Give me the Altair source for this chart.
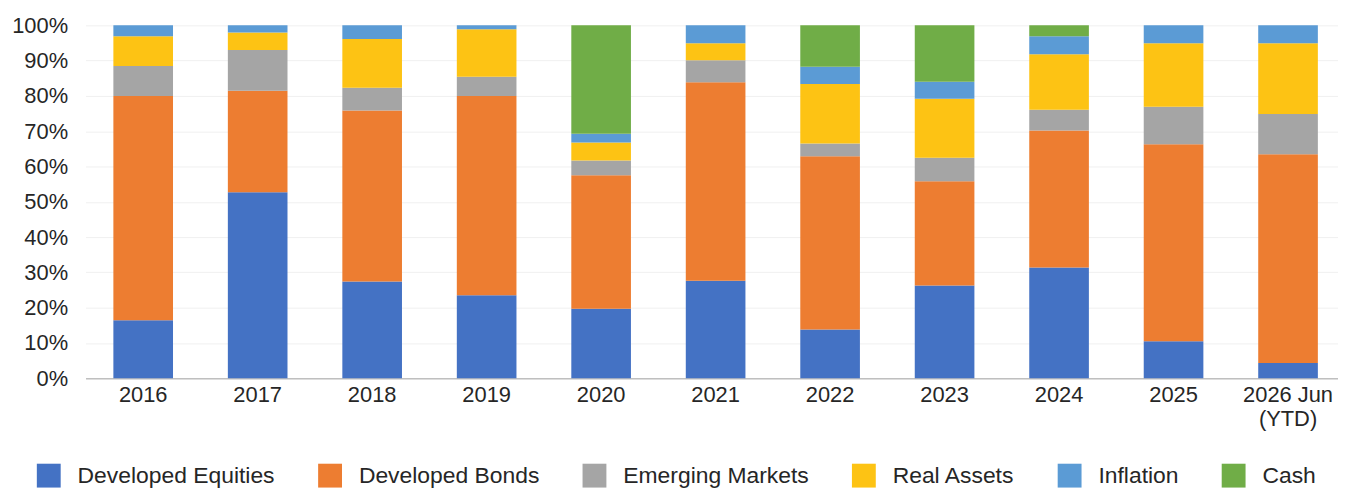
import altair as alt
import pandas as pd

years = ["2016", "2017", "2018", "2019", "2020", "2021", "2022", "2023", "2024", "2025", "2026 Jun\n(YTD)"]
series = ["Developed Equities", "Developed Bonds", "Emerging Markets", "Real Assets", "Inflation", "Cash"]

developed_equities = [16.4, 52.7, 27.4, 23.5, 19.7, 27.6, 13.8, 26.3, 31.4, 10.5, 4.3]
developed_bonds = [63.6, 28.8, 48.5, 56.5, 37.8, 56.3, 49.1, 29.5, 38.8, 55.8, 59.2]
emerging_markets = [8.5, 11.5, 6.4, 5.4, 4.2, 6.2, 3.6, 6.7, 5.9, 10.6, 11.4]
real_assets = [8.4, 5.0, 13.8, 13.5, 5.1, 4.8, 16.9, 16.7, 15.7, 18.0, 20.0]
inflation = [3.1, 2.0, 3.9, 1.1, 2.5, 5.1, 4.9, 4.8, 5.1, 5.1, 5.1]
cash = [0.0, 0.0, 0.0, 0.0, 30.7, 0.0, 11.7, 16.0, 3.1, 0.0, 0.0]

colors = ["#4472C4", "#ED7D31", "#A5A5A5", "#FDC314", "#5B9BD5", "#70AD47"]

all_values = [developed_equities, developed_bonds, emerging_markets, real_assets, inflation, cash]
rows = []
for i, (name, vals) in enumerate(zip(series, all_values)):
    for yr, v in zip(years, vals):
        rows.append({"year": yr, "series": name, "idx": i, "value": v})
df = pd.DataFrame(rows)

FONT = "Liberation Sans"
TEXT = "#262626"

chart = alt.Chart(df).mark_bar(size=60).encode(
    x=alt.X(
        "year:N",
        sort=years,
        scale=alt.Scale(paddingInner=0.48, paddingOuter=0.21, align=0.58),
        axis=alt.Axis(
            title=None,
            labelAngle=0,
            labelFontSize=22,
            labelFont=FONT,
            labelColor=TEXT,
            labelPadding=6,
            labelLineHeight=25,
            labelExpr="split(datum.label, '\\n')",
            ticks=False,
            domainColor="#BFBFBF",
            domainWidth=1.5,
            grid=False,
        ),
    ),
    y=alt.Y(
        "value:Q",
        stack="normalize",
        scale=alt.Scale(domain=[0, 1]),
        axis=alt.Axis(
            title=None,
            format=".0%",
            values=[0, 0.1, 0.2, 0.3, 0.4, 0.5, 0.6, 0.7, 0.8, 0.9, 1.0],
            labelFontSize=22,
            labelFont=FONT,
            labelColor=TEXT,
            labelPadding=18,
            ticks=False,
            domain=False,
            gridColor="#F0F0F0",
            gridWidth=1,
        ),
    ),
    color=alt.Color(
        "series:N",
        sort=series,
        scale=alt.Scale(domain=series, range=colors),
        legend=alt.Legend(
            title=None,
            orient="none",
            direction="horizontal",
            legendX=-49,
            legendY=441,
            symbolType="square",
            symbolSize=576,
            symbolStrokeWidth=0,
            symbolOpacity=1,
            labelFontSize=23,
            labelFont=FONT,
            labelColor=TEXT,
            labelOffset=17,
            columnPadding=43,
            padding=0,
            labelLimit=400,
        ),
    ),
    order=alt.Order("idx:Q", sort="ascending"),
).properties(
    width=1260,
    height=355,
    autosize=alt.AutoSizeParams(type="none"),
    padding={"left": 78, "top": 16, "right": 0, "bottom": 112},
    background="white",
).configure_view(stroke=None)

chart.save("out.html", embed_options={"renderer": "svg", "actions": False})
